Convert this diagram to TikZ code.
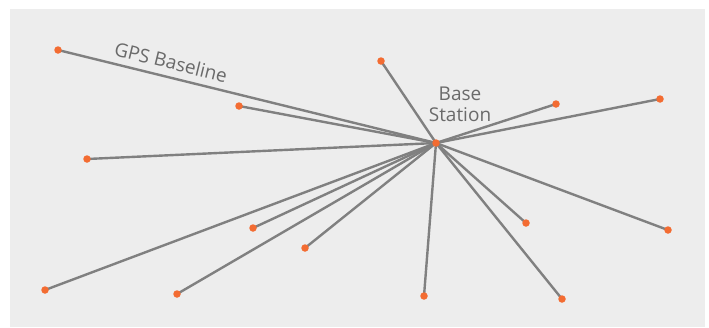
\documentclass[tikz,border=0pt]{standalone}
\usepackage{fontspec}
\setmainfont{Open Sans}
\definecolor{panel}{HTML}{EDEDED}
\definecolor{link}{HTML}{808080}
\definecolor{station}{HTML}{F36C32}
\definecolor{caption}{HTML}{6A6A6A}
\tikzset{
  rover/.style={circle,fill=station,inner sep=0pt,minimum size=7.5pt},
  baseline/.style={draw=link,line width=2.4pt},
  lbl/.style={text=caption,font=\fontsize{19}{21}\selectfont,inner sep=0pt}
}
\begin{document}
\begin{tikzpicture}[x=1pt,y=-1pt]
\useasboundingbox (0,0) rectangle (709,327);
\fill[panel] (10,9) rectangle (705,327);
% base station
\coordinate (hub) at (436,143);
% rover positions
\foreach \n/\x/\y in {a/58/50, b/239/106, c/87/159, d/381/61, e/556/104, f/660/99,
  g/526/223, h/668/230, i/253/228, j/305/248, k/45/290, l/177/294, m/424/296, n/562/299}
  \coordinate (\n) at (\x,\y);
\foreach \n in {a,b,c,d,e,f,g,h,i,j,k,l,m,n}
  \draw[baseline] (hub) -- (\n);
\foreach \n in {a,b,c,d,e,f,g,h,i,j,k,l,m,n}
  \node[rover] at (\n) {};
\node[rover] (base) at (hub) {};
\node[lbl,rotate=-13.8] (gps) at (171,62) {GPS Baseline};
\node[lbl,align=center] (bs) at (460,104) {Base\\Station};
\end{tikzpicture}
\end{document}
